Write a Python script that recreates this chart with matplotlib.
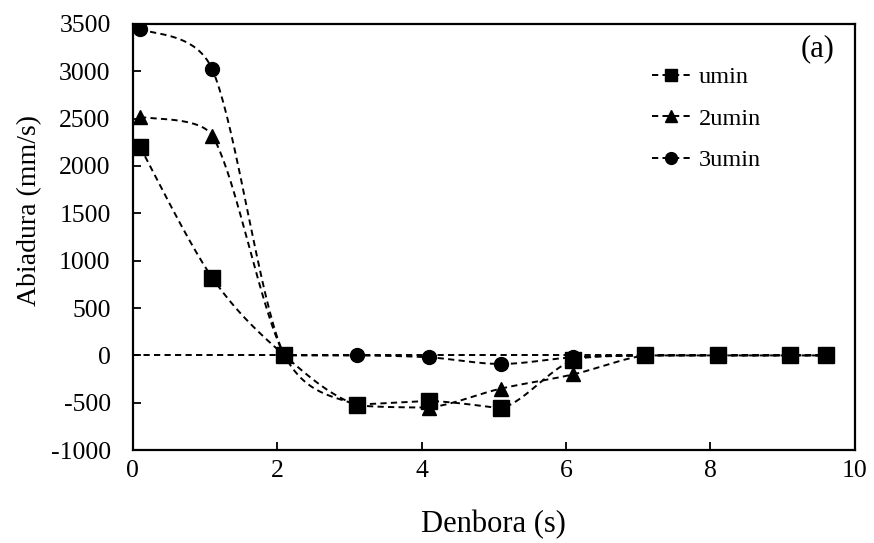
import numpy as np
import matplotlib
matplotlib.use("Agg")
import matplotlib.pyplot as plt
from matplotlib.lines import Line2D

plt.rcParams['font.family'] = ['Liberation Serif', 'DejaVu Serif']
plt.rcParams['axes.unicode_minus'] = False

# Time (s) and velocity (mm/s) for each case
time_s = [0.1, 1.1, 2.1, 3.1, 4.1, 5.1, 6.1, 7.1, 8.1, 9.1, 9.6]
v_umin = [2200, 820, 0, -520, -480, -560, -50, 0, 0, 0, 0]
v_2umin = [2520, 2320, 0, -520, -550, -350, -200, 0, 0, 0, 0]
v_3umin = [3450, 3020, 0, 0, -20, -90, -20, 0, 0, 0, 0]
zero_x = [0, 9.6]
zero_y = [0, 0]

labels = ["umin", "2umin", "3umin"]
markers = ["s", "^", "o"]
msizes = [11, 10.5, 10]


def limit_arm(arm, ya, yb):
    """Shorten a control arm so the curve stays within the y-range of its segment."""
    dy = arm[1]
    span = yb - ya
    if dy == 0:
        return arm
    if span == 0 or np.sign(dy) != np.sign(span):
        return arm * 0.0
    return arm * min(1.0, abs(span) / abs(dy))


def smooth(ax, x, y, n=40):
    """Smoothed line through the points, built from cubic Bezier segments
    in display space with control arms limited to half the segment length."""
    P = ax.transData.transform(np.column_stack([x, y]).astype(float))
    out = []
    for i in range(len(P) - 1):
        p0 = P[i - 1] if i > 0 else P[i]
        p1 = P[i]
        p2 = P[i + 1]
        p3 = P[i + 2] if i + 2 < len(P) else P[i + 1]
        d02 = np.hypot(*(p2 - p0))
        d12 = np.hypot(*(p2 - p1))
        d13 = np.hypot(*(p3 - p1))
        f0 = 1 / 6 if (d02 / 6 < d12 / 2 or d02 == 0) else d12 / (2 * d02)
        f3 = 1 / 6 if (d13 / 6 < d12 / 2 or d13 == 0) else d12 / (2 * d13)
        a1 = limit_arm((p2 - p0) * f0, p1[1], p2[1])
        a2 = limit_arm(-(p3 - p1) * f3, p2[1], p1[1])
        c1 = p1 + a1
        c2 = p2 + a2
        t = np.linspace(0, 1, n)[:, None]
        seg = ((1 - t) ** 3) * p1 + 3 * ((1 - t) ** 2) * t * c1 \
            + 3 * (1 - t) * t ** 2 * c2 + t ** 3 * p2
        out.append(seg if i == 0 else seg[1:])
    s = ax.transData.inverted().transform(np.vstack(out))
    return s[:, 0], s[:, 1]


fig = plt.figure(figsize=(8.74, 5.43), dpi=100)
ax = fig.add_axes([0.152, 0.171, 0.826, 0.785])
ax.set_xlim(0, 10)
ax.set_ylim(-1000, 3500)

dash = (0, (3.2, 2.2))
lw = 1.4
ax.plot(zero_x, zero_y, color="black", lw=lw, linestyle=dash, zorder=2)

handles = []
for ys, lab, mk, ms in zip([v_umin, v_2umin, v_3umin], labels, markers, msizes):
    sx, sy = smooth(ax, time_s, ys)
    ax.plot(sx, sy, color="black", lw=lw, linestyle=dash, zorder=2)
    ax.plot(time_s, ys, linestyle="none", marker=mk, markersize=ms,
            color="black", zorder=3)
    handles.append(Line2D([], [], color="black", lw=lw, linestyle=dash,
                          marker=mk, markersize=8.5, label=lab))

ax.set_xticks(np.arange(0, 11, 2))
ax.set_yticks(np.arange(-1000, 3501, 500))
ax.tick_params(axis="both", labelsize=18.5, direction="in", length=6, width=1.3)
ax.tick_params(axis="x", pad=7)
ax.tick_params(axis="y", pad=16)
for sp in ax.spines.values():
    sp.set_linewidth(1.6)

ax.set_xlabel("Denbora (s)", fontsize=22, labelpad=20)
ax.set_ylabel("Abiadura (mm/s)", fontsize=20)
ax.yaxis.set_label_coords(-0.126, 0.563)

ax.text(0.972, 0.975, "(a)", transform=ax.transAxes, ha="right", va="top", fontsize=22)

ax.legend(handles=handles, loc="upper left", bbox_to_anchor=(0.705, 0.923),
          frameon=False, fontsize=17.5, handlelength=1.6, labelspacing=0.8,
          handletextpad=0.35, borderaxespad=0)

fig.savefig("out.png", dpi=100)
